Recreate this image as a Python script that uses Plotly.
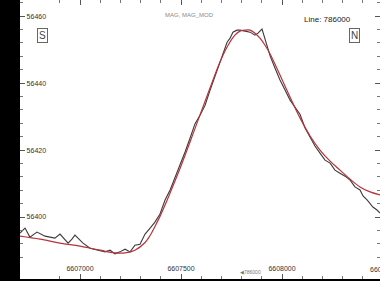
import plotly.graph_objects as go

# Measured profile (MAG)
mag_x = [6606703, 6606728, 6606752, 6606787, 6606827, 6606851, 6606876, 6606901, 6606926, 6606941,
         6606960, 6606975, 6607000, 6607015, 6607050, 6607074, 6607099, 6607124, 6607149, 6607173,
         6607198, 6607223, 6607248, 6607272, 6607297, 6607322, 6607347, 6607371, 6607396, 6607421,
         6607446, 6607470, 6607495, 6607520, 6607545, 6607569, 6607594, 6607619, 6607644, 6607668,
         6607693, 6607713, 6607728, 6607743, 6607757, 6607777, 6607792, 6607817, 6607842, 6607866,
         6607881, 6607901, 6607911, 6607926, 6607941, 6607965, 6607990, 6608015, 6608040, 6608064,
         6608089, 6608114, 6608139, 6608163, 6608188, 6608213, 6608238, 6608262, 6608287, 6608312,
         6608337, 6608361, 6608386, 6608401, 6608421, 6608436, 6608450, 6608470, 6608485]
mag_y = [56395.2, 56396.7, 56394.0, 56395.5, 56394.3, 56394.0, 56393.7, 56394.9, 56393.1, 56392.2,
         56393.4, 56394.6, 56393.1, 56392.2, 56390.7, 56390.4, 56389.9, 56389.6, 56390.1, 56389.0,
         56389.6, 56390.4, 56389.6, 56391.6, 56391.9, 56394.9, 56396.7, 56398.5, 56400.9, 56405.1,
         56408.1, 56411.6, 56415.5, 56419.4, 56423.6, 56427.8, 56430.4, 56433.4, 56437.9, 56442.1,
         56446.0, 56449.3, 56452.2, 56453.4, 56455.2, 56455.8, 56455.8, 56455.5, 56455.2, 56454.3,
         56454.9, 56456.1, 56454.0, 56451.3, 56448.1, 56444.5, 56440.9, 56437.9, 56434.9, 56432.8,
         56430.7, 56426.6, 56423.9, 56421.2, 56419.1, 56417.0, 56416.1, 56414.0, 56413.1, 56412.2,
         56411.0, 56409.0, 56408.1, 56406.3, 56405.1, 56403.9, 56403.0, 56402.1, 56401.2]

# Modelled profile (MAG_MOD)
mod_x = [6606703, 6606802, 6606901, 6607000, 6607099, 6607173, 6607223, 6607272, 6607322, 6607347,
         6607371, 6607396, 6607421, 6607446, 6607495, 6607545, 6607594, 6607644, 6607693, 6607733,
         6607767, 6607792, 6607817, 6607842, 6607866, 6607891, 6607916, 6607941, 6607990, 6608040,
         6608089, 6608139, 6608188, 6608238, 6608287, 6608337, 6608386, 6608436, 6608485]
mod_y = [56394.3, 56393.4, 56392.2, 56391.3, 56390.1, 56389.3, 56389.3, 56390.1, 56392.4, 56394.5,
         56397.2, 56400.2, 56403.6, 56407.2, 56414.5, 56422.5, 56430.5, 56438.6, 56446.3, 56451.3,
         56454.3, 56455.5, 56455.8, 56455.8, 56454.9, 56453.4, 56451.3, 56448.7, 56442.4, 56435.8,
         56429.6, 56424.2, 56420.0, 56416.7, 56414.0, 56411.3, 56409.0, 56407.5, 56406.6]

x_ticks = [6607000, 6607500, 6608000, 6608500]
y_ticks = [56400, 56420, 56440, 56460]
x_range = [6606703, 6608485]
y_range = [56381.5, 56464.8]

fig = go.Figure()
fig.add_trace(go.Scatter(x=mag_x, y=mag_y, mode="lines", line=dict(color="#3a3a3a", width=1.1),
                         name="MAG", showlegend=False, hoverinfo="skip"))
fig.add_trace(go.Scatter(x=mod_x, y=mod_y, mode="lines", line=dict(color="#b8323c", width=1.2, shape="spline"),
                         name="MAG_MOD", showlegend=False, hoverinfo="skip"))

fam = "Liberation Sans, Arial, sans-serif"
font = dict(family=fam, size=7, color="#333333")

fig.update_layout(
    width=380, height=281,
    margin=dict(l=20, r=0, t=0, b=2),
    paper_bgcolor="black",
    plot_bgcolor="white",
    hovermode=False,
    xaxis=dict(range=x_range, tickvals=x_ticks[:3], ticktext=[str(v) for v in x_ticks[:3]],
               ticks="inside", ticklen=5, tickcolor="#555", ticklabelposition="inside",
               showgrid=False, zeroline=False, mirror="ticks", showline=False,
               tickfont=font, minor=dict(dtick=100, ticks="inside", ticklen=3, tickcolor="#777")),
    yaxis=dict(range=y_range, tickvals=y_ticks, ticktext=[str(v) for v in y_ticks],
               ticks="inside", ticklen=5, tickcolor="#555", ticklabelposition="inside",
               showgrid=False, zeroline=False, mirror="ticks", showline=False,
               tickfont=font, minor=dict(dtick=4, ticks="inside", ticklen=3, tickcolor="#777")),
    font=font,
)

# last x tick label, cut by the right edge as in the original
last_px = (x_ticks[3] - x_range[0]) / (x_range[1] - x_range[0])
fig.add_annotation(xref="paper", yref="paper", x=last_px, xanchor="center", y=0.033, yanchor="middle",
                   text=str(x_ticks[3]), showarrow=False, font=font)
fig.add_annotation(xref="paper", yref="paper", x=0.47, y=0.965, text="MAG, MAG_MOD",
                   showarrow=False, font=dict(family=fam, size=6, color="#888"))
fig.add_annotation(xref="paper", yref="paper", x=0.925, y=0.955, text="Line: 786000",
                   showarrow=False, font=dict(family=fam, size=8, color="#222"))
fig.add_annotation(xref="paper", yref="paper", x=0.048, y=0.9, text="S", showarrow=False,
                   font=dict(family=fam, size=10, color="#444"),
                   bordercolor="#666", borderwidth=1, borderpad=1, bgcolor="white")
fig.add_annotation(xref="paper", yref="paper", x=0.945, y=0.9, text="N", showarrow=False,
                   font=dict(family=fam, size=10, color="#444"),
                   bordercolor="#666", borderwidth=1, borderpad=1, bgcolor="white")
fig.add_annotation(xref="paper", yref="paper", x=0.64, y=0.008, yanchor="bottom", text="◀786000",
                   showarrow=False, font=dict(family=fam, size=5, color="#777"))

fig.write_html("out.html", config={"displayModeBar": False, "staticPlot": True},
               post_script="document.body.style.margin='0';")
